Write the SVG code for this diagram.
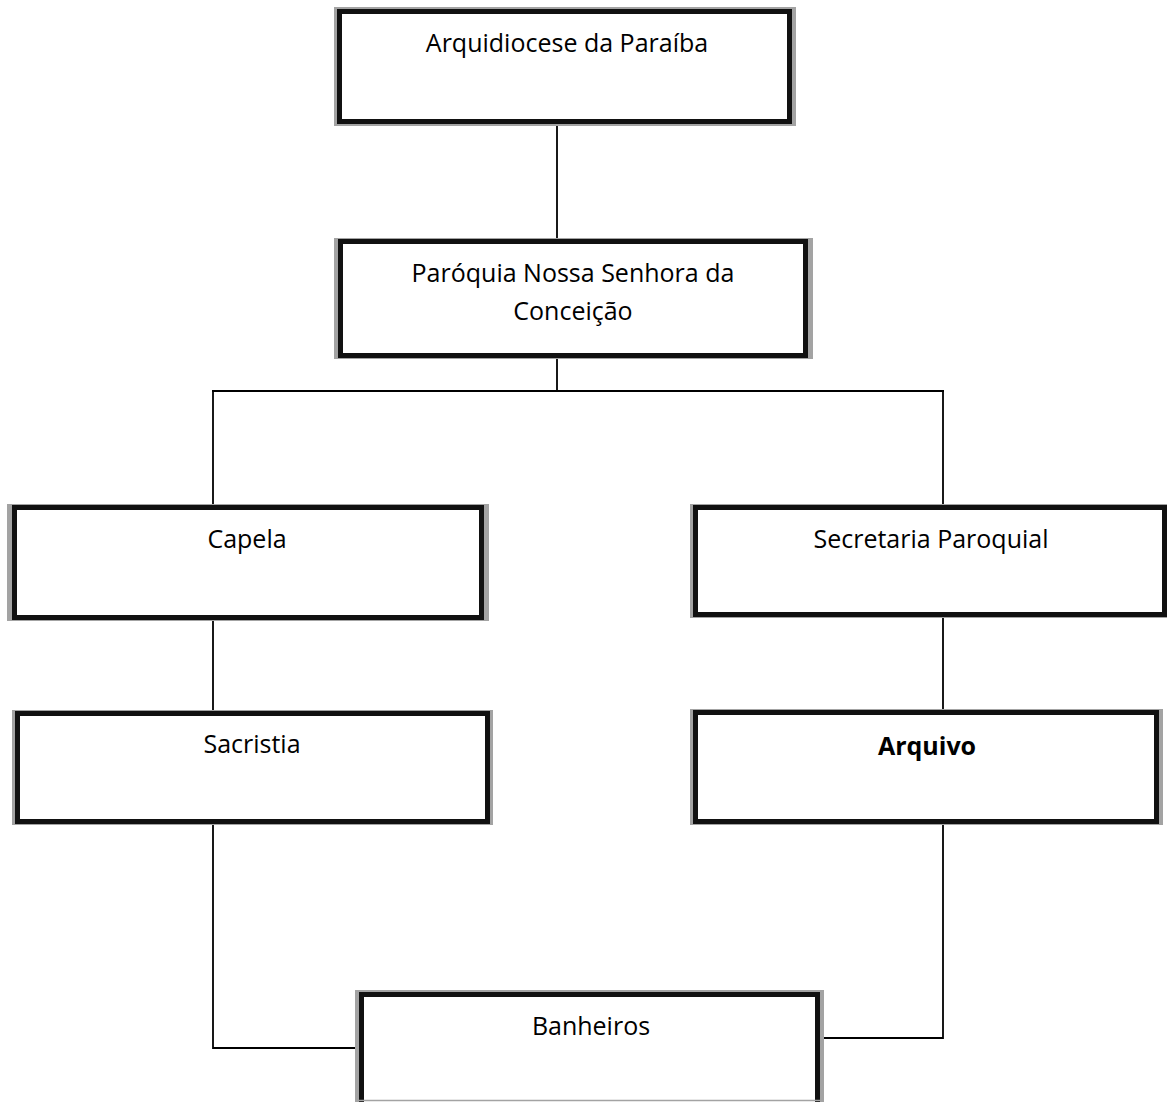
<svg xmlns="http://www.w3.org/2000/svg" width="1167" height="1102" viewBox="0 0 1167 1102">
<style>
.sh{fill:#a3a3a3}
.bx{fill:#fff;stroke:#111;stroke-width:5}
.t{font-family:"Open Sans","Noto Sans","Liberation Sans",sans-serif;font-size:25px;fill:#000;text-anchor:middle}
.b{font-weight:bold}
.c{fill:none;stroke:#000;stroke-width:1.8}
</style>
<rect width="1167" height="1102" fill="#fff"/>
<g id="connectors">
<line class="c" x1="557" y1="124" x2="557" y2="239"/>
<line class="c" x1="557" y1="358" x2="557" y2="391"/>
<line class="c" x1="212" y1="391" x2="944" y2="391"/>
<line class="c" x1="213" y1="391" x2="213" y2="505"/>
<line class="c" x1="943" y1="391" x2="943" y2="505"/>
<line class="c" x1="213" y1="620" x2="213" y2="711"/>
<line class="c" x1="943" y1="617" x2="943" y2="710"/>
<polyline class="c" points="213,824 213,1048 359,1048"/>
<polyline class="c" points="943,824 943,1038 820,1038"/>
</g>
<g id="n1">
<rect class="sh" x="334" y="7" width="462" height="119"/>
<rect class="bx" x="339.5" y="11.5" width="450" height="110"/>
<text class="t" x="567" y="52">Arquidiocese da Paraíba</text>
</g>
<g id="n2">
<rect class="sh" x="334" y="238" width="479" height="121"/>
<rect class="bx" x="340.5" y="241.5" width="465" height="114"/>
<text class="t" x="573" y="282">Paróquia Nossa Senhora da</text>
<text class="t" x="573" y="320">Conceição</text>
</g>
<g id="n3">
<rect class="sh" x="7" y="504" width="482" height="117"/>
<rect class="bx" x="14.5" y="507.5" width="467" height="110"/>
<text class="t" x="247" y="548">Capela</text>
</g>
<g id="n4">
<rect class="sh" x="690" y="504" width="480" height="114"/>
<rect class="bx" x="695.5" y="507.5" width="469" height="107"/>
<text class="t" x="931" y="548">Secretaria Paroquial</text>
</g>
<g id="n5">
<rect class="sh" x="12" y="710" width="481" height="115"/>
<rect class="bx" x="17.5" y="713.5" width="470" height="108"/>
<text class="t" x="252" y="753">Sacristia</text>
</g>
<g id="n6">
<rect class="sh" x="690" y="709" width="473" height="116"/>
<rect class="bx" x="695.5" y="712.5" width="461" height="109"/>
<text class="t b" x="927" y="755">Arquivo</text>
</g>
<g id="n7">
<rect class="sh" x="355" y="990" width="469" height="130"/>
<rect class="bx" x="361.5" y="994.5" width="456" height="120"/>
<line x1="359" y1="1100.5" x2="824" y2="1100.5" stroke="#a3a3a3" stroke-width="1.5"/>
<text class="t" x="591" y="1035">Banheiros</text>
</g>
</svg>
